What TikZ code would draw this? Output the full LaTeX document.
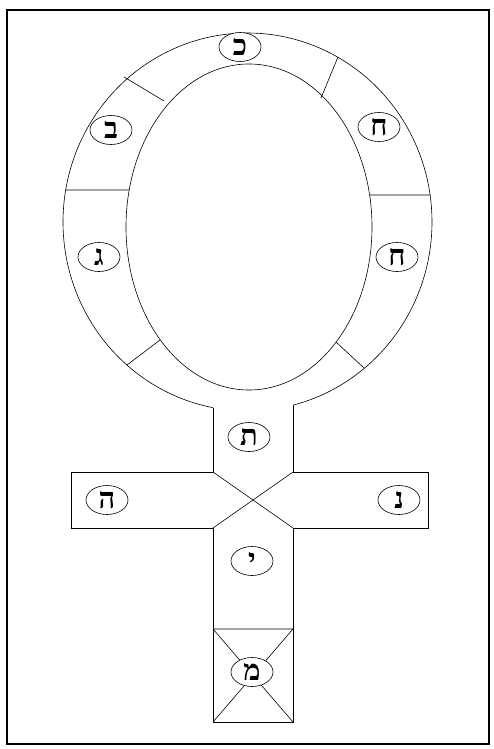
\documentclass[tikz,border=0pt]{standalone}
\usepackage{fontspec}
\usetikzlibrary{shapes.geometric}
\newfontfamily\hebfont[Script=Hebrew]{Liberation Serif}
\TeXXeTstate=1
\tikzset{
  lbl/.style={draw, ellipse, fill=white, line width=0.6pt, minimum width=42pt, minimum height=29pt, inner sep=0pt, font=\hebfont\bfseries\fontsize{29}{29}\selectfont},
  thin line/.style={line width=0.6pt},
  frame/.style={line width=2pt}
}
\begin{document}
\begin{tikzpicture}[x=1pt,y=-1pt]
\useasboundingbox (0,0) rectangle (494,749);
\draw[frame] (7,10) rectangle (489,744);
% ring
\coordinate (jl) at (213,407.6);
\coordinate (jr) at (293,405.2);
\draw[thin line] plot[domain=100.8:435.7, samples=240, smooth] ({247.5+184.5*cos(\x)},{222+189*sin(\x)});
\draw[thin line] (249,227) ellipse[x radius=123, y radius=163];
% division lines
\coordinate (tlo) at (124,77);   \coordinate (tli) at (164,101);
\coordinate (tro) at (338,57);   \coordinate (tri) at (321,98);
\coordinate (lo) at (65.6,190);  \coordinate (li) at (129,190);
\coordinate (ro) at (430,195);   \coordinate (ri) at (369.6,195);
\coordinate (blo) at (127,365);  \coordinate (bli) at (160,340);
\coordinate (bro) at (364,368);  \coordinate (bri) at (336,342);
\draw[thin line] (tlo) -- (tli) (tro) -- (tri) (lo) -- (li) (ro) -- (ri) (blo) -- (bli) (bro) -- (bri);
% cross
\coordinate (atl) at (71,472);  \coordinate (abl) at (71,528);
\coordinate (atr) at (428,472); \coordinate (abr) at (428,528);
\coordinate (c1) at (213,472); \coordinate (c2) at (293,472);
\coordinate (c3) at (213,528); \coordinate (c4) at (293,528);
\coordinate (b1) at (213,629); \coordinate (b2) at (293,629);
\coordinate (b3) at (213,722); \coordinate (b4) at (293,722);
\draw[thin line] (jl) -- (c1) -- (atl) -- (abl) -- (c3) -- (b3) -- (b4) -- (c4) -- (abr) -- (atr) -- (c2) -- (jr);
\draw[thin line] (c1) -- (c4) (c2) -- (c3);
\draw[thin line] (b1) -- (b2) (b1) -- (b4) (b2) -- (b3);
% labels
\node[lbl] (kaf) at (240,47) {\beginR כ\endR};
\node[lbl] (bet) at (111,130) {\beginR ב\endR};
\node[lbl] (het1) at (379,127) {\beginR ח\endR};
\node[lbl] (gimel) at (99,257) {\beginR ג\endR};
\node[lbl] (het2) at (397,257) {\beginR ח\endR};
\node[lbl] (tav) at (249,437) {\beginR ת\endR};
\node[lbl] (he) at (107,500) {\beginR ה\endR};
\node[lbl] (nun) at (399,500) {\beginR נ\endR};
\node[lbl] (yod) at (252,561) {\beginR י\endR};
\node[lbl] (mem) at (252,672) {\beginR מ\endR};
\end{tikzpicture}
\end{document}
